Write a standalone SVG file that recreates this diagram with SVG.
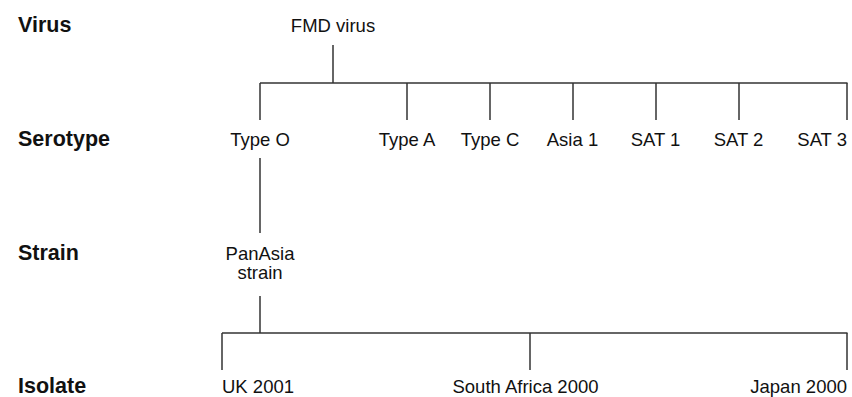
<svg xmlns="http://www.w3.org/2000/svg" width="852" height="397" viewBox="0 0 852 397">
<style>
.lvl{font-family:"Liberation Sans",Arial,sans-serif;font-weight:bold;font-size:21.5px;fill:#111}
.t{font-family:"Liberation Sans",Arial,sans-serif;font-size:18.5px;fill:#111;text-anchor:middle}
.l{text-anchor:start}
.r{text-anchor:end}
.c line{stroke:#333;stroke-width:1.5;fill:none}
</style>
<rect width="852" height="397" fill="#fff"/>
<g id="levels">
<text class="lvl" x="18" y="32">Virus</text>
<text class="lvl" x="18" y="145.5">Serotype</text>
<text class="lvl" x="18" y="260">Strain</text>
<text class="lvl" x="18" y="392.5">Isolate</text>
</g>
<g id="fmd"><text class="t" x="333" y="31.5">FMD virus</text></g>
<g id="typeO"><text class="t" x="260" y="145.5">Type O</text></g>
<g id="typeA"><text class="t" x="407" y="145.5">Type A</text></g>
<g id="typeC"><text class="t" x="490" y="145.5">Type C</text></g>
<g id="asia1"><text class="t" x="572.5" y="145.5">Asia 1</text></g>
<g id="sat1"><text class="t" x="655.5" y="145.5">SAT 1</text></g>
<g id="sat2"><text class="t" x="738.5" y="145.5">SAT 2</text></g>
<g id="sat3"><text class="t r" x="847" y="145.5">SAT 3</text></g>
<g id="panasia"><text class="t" x="260" y="260">PanAsia</text><text class="t" x="260" y="279">strain</text></g>
<g id="uk2001"><text class="t l" x="222" y="392.5">UK 2001</text></g>
<g id="sa2000"><text class="t" x="525.5" y="392.5">South Africa 2000</text></g>
<g id="japan2000"><text class="t r" x="847" y="392.5">Japan 2000</text></g>
<g id="connectors" class="c">
<line x1="333" y1="45" x2="333" y2="83"/>
<line x1="260" y1="83" x2="847.5" y2="83"/>
<line x1="260" y1="83" x2="260" y2="120"/>
<line x1="407" y1="83" x2="407" y2="120"/>
<line x1="490" y1="83" x2="490" y2="120"/>
<line x1="573" y1="83" x2="573" y2="120"/>
<line x1="656" y1="83" x2="656" y2="120"/>
<line x1="739" y1="83" x2="739" y2="120"/>
<line x1="847" y1="83" x2="847" y2="120"/>
<line x1="260" y1="158" x2="260" y2="233"/>
<line x1="260" y1="296" x2="260" y2="333"/>
<line x1="222" y1="333" x2="847.5" y2="333"/>
<line x1="222" y1="333" x2="222" y2="370"/>
<line x1="530" y1="333" x2="530" y2="370"/>
<line x1="847" y1="333" x2="847" y2="370"/>
</g>
</svg>
